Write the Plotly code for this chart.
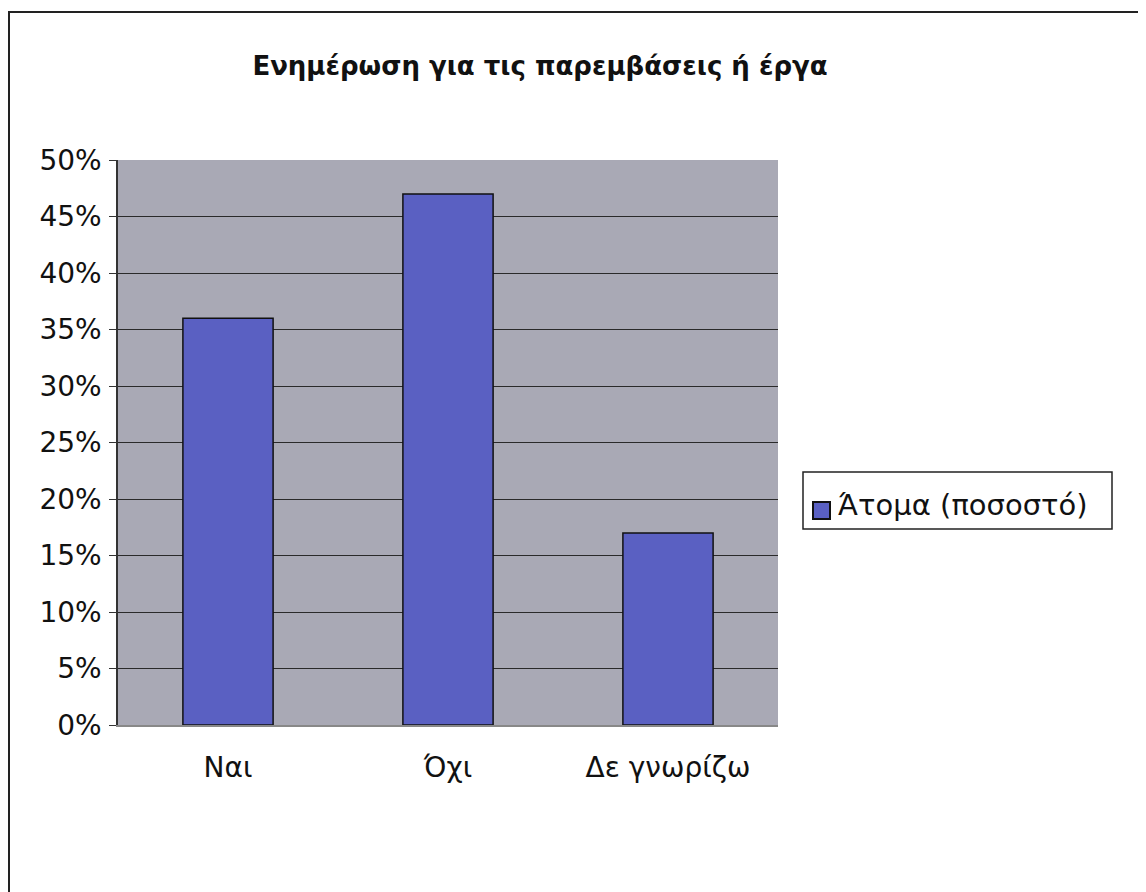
import plotly.graph_objects as go

categories = ["Ναι", "Όχι", "Δε γνωρίζω"]
values = [0.36, 0.47, 0.17]
series_name = "Άτομα (ποσοστό)"
title_text = "Ενημέρωση για τις παρεμβάσεις ή έργα"
tick_vals = [0, 0.05, 0.10, 0.15, 0.20, 0.25, 0.30, 0.35, 0.40, 0.45, 0.50]
tick_text = ["0%", "5%", "10%", "15%", "20%", "25%", "30%", "35%", "40%", "45%", "50%"]

# page body has an 8px margin, so coordinates below are screen - 8
OFF = 8
W, H = 1146, 892
L, T = 118 - OFF, 160 - OFF
pw, ph = 660, 565
R = W - L - pw
B = H - T - ph

def px(x):
    return (x - OFF - L) / pw

def py(y):
    return (T + ph - (y - OFF)) / ph

font_family = "DejaVu Sans, Verdana, sans-serif"
bar_color = "#5A60C2"

fig = go.Figure()
fig.add_trace(go.Bar(
    x=categories, y=values, name=series_name,
    marker=dict(color=bar_color, line=dict(color="#111111", width=1.5)),
    width=0.41, showlegend=False,
))

fig.update_layout(
    width=W, height=H,
    margin=dict(l=L, r=R, t=T, b=B),
    paper_bgcolor="white",
    plot_bgcolor="#A9A9B5",
    font=dict(family=font_family, size=28, color="#111111"),
    title=dict(text="<b>" + title_text + "</b>", x=(540 - OFF) / W, xanchor="center",
               y=1 - (66 - OFF) / H, yanchor="middle",
               font=dict(size=26, color="#111111", family=font_family)),
    showlegend=False,
)
fig.update_yaxes(range=[0, 0.5], tickvals=tick_vals, ticktext=tick_text,
                 showgrid=True, gridcolor="#2a2a2a", gridwidth=1.3,
                 showline=True, linecolor="#333333", linewidth=1.5,
                 ticks="outside", ticklen=7, tickcolor="#333333", zeroline=False,
                 tickfont=dict(size=28), ticklabelstandoff=2)
fig.update_xaxes(showline=True, linecolor="#888888", linewidth=1.5,
                 ticks="", tickfont=dict(size=28), ticklabelstandoff=17)

# outer frame
fig.add_shape(type="rect", xref="paper", yref="paper",
              x0=px(9), x1=px(1143), y0=py(905), y1=py(12),
              line=dict(color="#222222", width=2), fillcolor="rgba(0,0,0,0)", layer="below")

# legend box drawn manually
fig.add_shape(type="rect", xref="paper", yref="paper",
              x0=px(803), x1=px(1112), y0=py(529), y1=py(472),
              line=dict(color="#222222", width=1.5), fillcolor="white")
fig.add_shape(type="rect", xref="paper", yref="paper",
              x0=px(813), x1=px(830), y0=py(519), y1=py(502),
              line=dict(color="#111111", width=2), fillcolor=bar_color)
fig.add_annotation(xref="paper", yref="paper", x=px(836), y=py(505),
                   xanchor="left", yanchor="middle", showarrow=False,
                   text=series_name, font=dict(size=29, color="#111111"))

fig.write_html("out.html")
